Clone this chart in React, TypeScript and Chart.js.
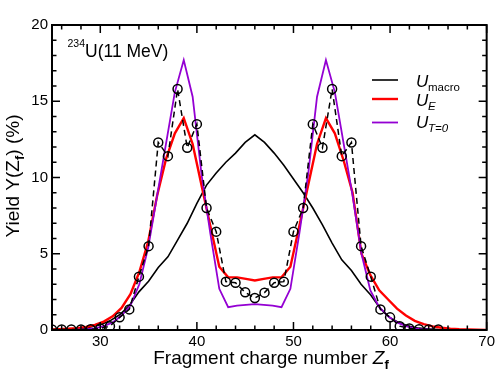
import React, { useEffect, useRef } from "react";
import { Chart, registerables } from "chart.js";

Chart.register(...registerables);

// Experimental yields (open circles, dashed line)
const expZ = [25, 26, 27, 28, 29, 30, 31, 32, 33, 34, 35, 36, 37, 38, 39, 40, 41, 42, 43, 44, 45, 46, 47, 48, 49, 50, 51, 52, 53, 54, 55, 56, 57, 58, 59, 60, 61, 62, 63, 64, 65];
const expYield = [0.03, 0.03, 0.03, 0.03, 0.05, 0.1, 0.25, 0.83, 1.35, 3.5, 5.5, 12.3, 11.4, 15.8, 11.95, 13.5, 8.0, 6.45, 3.17, 3.1, 2.47, 2.1, 2.45, 3.1, 3.17, 6.45, 8.0, 13.5, 11.95, 15.8, 11.4, 12.3, 5.5, 3.5, 1.35, 0.83, 0.25, 0.1, 0.05, 0.03, 0.03];

// U_macro (black)
const macroZ = [25, 26, 27, 28, 29, 30, 31, 32, 33, 34, 35, 36, 37, 38, 39, 40, 41, 42, 43, 44, 45, 46, 47, 48, 49, 50, 51, 52, 53, 54, 55, 56, 57, 58, 59, 60, 61, 62, 63, 64, 65, 66, 67];
const macroYield = [0.02, 0.03, 0.05, 0.1, 0.2, 0.35, 0.6, 1.0, 1.6, 2.5, 3.2, 4.1, 4.8, 5.9, 7.0, 8.3, 9.5, 10.3, 11.0, 11.6, 12.3, 12.8, 12.3, 11.6, 10.8, 9.9, 9.0, 8.0, 6.9, 5.7, 4.6, 3.9, 3.0, 2.3, 1.4, 0.8, 0.45, 0.25, 0.12, 0.06, 0.03, 0.02, 0.01];

// Model grid for U_E and U_T=0
const modelZ = [24.84, 25.76, 26.68, 27.6, 28.52, 29.44, 30.36, 31.28, 32.2, 33.12, 34.04, 34.96, 35.88, 36.8, 37.72, 38.64, 39.56, 40.48, 41.4, 42.32, 43.24, 44.16, 45.08, 46.0, 46.92, 47.84, 48.76, 49.68, 50.6, 51.52, 52.44, 53.36, 54.28, 55.2, 56.12, 57.04, 57.96, 58.88, 59.8, 60.72, 61.64, 62.56, 63.48, 64.4, 65.32, 66.24, 67.16, 68.08, 69.0, 69.92, 70.84];
const yieldE = [0.03, 0.05, 0.08, 0.12, 0.2, 0.33, 0.55, 0.9, 1.45, 2.35, 3.8, 5.8, 8.8, 11.2, 12.9, 13.9, 12.2, 9.5, 6.8, 4.15, 3.45, 3.45, 3.35, 3.25, 3.35, 3.45, 3.45, 4.15, 6.8, 9.5, 12.2, 13.9, 12.9, 11.1, 9.0, 5.0, 3.6, 2.6, 2.0, 1.4, 0.95, 0.6, 0.38, 0.24, 0.15, 0.09, 0.05, 0.03, 0.02, 0.01, 0.01];
const yieldT0 = [0.0, 0.0, 0.01, 0.02, 0.05, 0.1, 0.25, 0.5, 0.95, 1.6, 3.0, 5.4, 8.8, 12.2, 15.6, 17.7, 15.3, 10.2, 6.3, 2.7, 1.5, 1.6, 1.65, 1.7, 1.65, 1.6, 1.5, 2.7, 6.3, 10.2, 15.3, 17.7, 15.6, 12.2, 8.8, 5.0, 2.6, 1.5, 0.9, 0.5, 0.25, 0.1, 0.05, 0.02, 0.01, 0.0, 0.0, 0.0, 0.0, 0.0, 0.0];

// Axis ticks
const xTicks = [30, 40, 50, 60, 70];
const xMinorTicks = [26, 28, 32, 34, 36, 38, 42, 44, 46, 48, 52, 54, 56, 58, 62, 64, 66, 68];
const yTicks = [0, 5, 10, 15, 20];
const yMinorTicks = [1, 2, 3, 4, 6, 7, 8, 9, 11, 12, 13, 14, 16, 17, 18, 19];

const FONT = '"Liberation Sans", Arial, Helvetica, sans-serif';

type Run = { t: string; font: string; dy?: number };

function drawRuns(ctx: CanvasRenderingContext2D, runs: Run[], x: number, y: number, align: "left" | "center") {
  let w = 0;
  for (const r of runs) {
    ctx.font = r.font;
    w += ctx.measureText(r.t).width;
  }
  let cx = align === "center" ? x - w / 2 : x;
  ctx.textAlign = "left";
  ctx.textBaseline = "alphabetic";
  for (const r of runs) {
    ctx.font = r.font;
    ctx.fillText(r.t, cx, y + (r.dy || 0));
    cx += ctx.measureText(r.t).width;
  }
}

const decorPlugin = {
  id: "decor",
  afterDraw(chart: any) {
    const ctx: CanvasRenderingContext2D = chart.ctx;
    const { left, right, top, bottom } = chart.chartArea;
    const xs = chart.scales.x;
    const ys = chart.scales.y;
    ctx.save();
    ctx.strokeStyle = "#000";
    ctx.fillStyle = "#000";

    // ticks (inward, all sides)
    ctx.lineWidth = 1.5;
    const major = 8;
    const minor = 4.5;
    ctx.beginPath();
    const xt = (v: number, len: number) => {
      const px = xs.getPixelForValue(v);
      ctx.moveTo(px, bottom);
      ctx.lineTo(px, bottom - len);
      ctx.moveTo(px, top);
      ctx.lineTo(px, top + len);
    };
    const yt = (v: number, len: number) => {
      const py = ys.getPixelForValue(v);
      ctx.moveTo(left, py);
      ctx.lineTo(left + len, py);
      ctx.moveTo(right, py);
      ctx.lineTo(right - len, py);
    };
    xTicks.forEach((v) => xt(v, major));
    xMinorTicks.forEach((v) => xt(v, minor));
    yTicks.forEach((v) => yt(v, major));
    yMinorTicks.forEach((v) => yt(v, minor));
    ctx.stroke();

    // frame
    ctx.lineWidth = 2;
    ctx.strokeRect(left, top, right - left, bottom - top);

    // annotation
    drawRuns(ctx, [{ t: "234", font: `10.5px ${FONT}`, dy: -10 }, { t: "U(11 MeV)", font: `17.5px ${FONT}` }], 67.5, 57, "left");

    // legend
    const legend = [
      { color: "#000000", y: 80, w: 1.6, sub: "macro", subItalic: false },
      { color: "#ff0000", y: 99, w: 2.4, sub: "E", subItalic: true },
      { color: "#9400d3", y: 122.5, w: 1.8, sub: "T=0", subItalic: true },
    ];
    legend.forEach((l, i) => {
      ctx.strokeStyle = l.color;
      ctx.lineWidth = l.w;
      ctx.beginPath();
      ctx.moveTo(372, l.y);
      ctx.lineTo(398, l.y);
      ctx.stroke();
      const base = l.y + (i === 2 ? 5.5 : 7);
      ctx.fillStyle = "#000";
      ctx.font = `italic 17px ${FONT}`;
      ctx.textAlign = "left";
      ctx.textBaseline = "alphabetic";
      ctx.fillText("U", 416, base);
      ctx.font = `${l.subItalic ? "italic " : ""}11.5px ${FONT}`;
      ctx.fillText(l.sub, 428, base + 3.5);
    });

    // x-axis title
    ctx.fillStyle = "#000";
    drawRuns(
      ctx,
      [
        { t: "Fragment charge number ", font: `19px ${FONT}` },
        { t: "Z", font: `italic 19px ${FONT}` },
        { t: "f", font: `bold 13px ${FONT}`, dy: 5 },
      ],
      271,
      364,
      "center"
    );

    // y-axis title
    ctx.save();
    ctx.translate(19, 176);
    ctx.rotate(-Math.PI / 2);
    drawRuns(
      ctx,
      [
        { t: "Yield Y(Z", font: `19px ${FONT}` },
        { t: "f", font: `bold 13px ${FONT}`, dy: 5 },
        { t: ") (%)", font: `19px ${FONT}` },
      ],
      0,
      0,
      "center"
    );
    ctx.restore();

    ctx.restore();
  },
};

const pts = (xs: number[], ys: number[]) => xs.map((x, i) => ({ x, y: ys[i] }));

export default function App() {
  const ref = useRef<HTMLCanvasElement>(null);
  useEffect(() => {
    document.body.style.margin = "0";
    const canvas = ref.current!;
    const chart = new Chart(canvas, {
      type: "line",
      data: {
        datasets: [
          {
            label: "exp",
            data: pts(expZ, expYield),
            borderColor: "#000",
            borderWidth: 1.5,
            borderDash: [6, 4],
            pointRadius: 4.5,
            pointBorderWidth: 1.5,
            pointBorderColor: "#000",
            pointBackgroundColor: "rgba(0,0,0,0)",
            pointStyle: "circle",
            order: 0,
          },
          {
            label: "U_T=0",
            data: pts(modelZ, yieldT0),
            borderColor: "#9400d3",
            borderWidth: 1.8,
            pointRadius: 0,
            order: 1,
          },
          {
            label: "U_E",
            data: pts(modelZ, yieldE),
            borderColor: "#ff0000",
            borderWidth: 2.4,
            pointRadius: 0,
            order: 2,
          },
          {
            label: "U_macro",
            data: pts(macroZ, macroYield),
            borderColor: "#000",
            borderWidth: 1.6,
            pointRadius: 0,
            order: 3,
          },
        ],
      },
      options: {
        responsive: false,
        animation: false,
        devicePixelRatio: 1,
        layout: { padding: { top: 25, right: 10, left: 0, bottom: 0 } },
        plugins: { legend: { display: false }, tooltip: { enabled: false } },
        elements: { line: { tension: 0 } },
        scales: {
          x: {
            type: "linear",
            min: 25,
            max: 70,
            grid: { display: false, drawTicks: false },
            border: { display: false },
            ticks: { font: { family: FONT, size: 15 }, color: "#000", padding: 3 },
            afterBuildTicks: (s: any) => {
              s.ticks = xTicks.map((v) => ({ value: v }));
            },
            afterFit: (s: any) => {
              s.height = 55;
            },
          },
          y: {
            type: "linear",
            min: 0,
            max: 20,
            grid: { display: false, drawTicks: false },
            border: { display: false },
            ticks: { font: { family: FONT, size: 15 }, color: "#000", padding: 4 },
            afterBuildTicks: (s: any) => {
              s.ticks = yTicks.map((v) => ({ value: v }));
            },
            afterFit: (s: any) => {
              s.width = 52;
            },
          },
        },
      },
      plugins: [decorPlugin],
    } as any);
    return () => chart.destroy();
  }, []);
  return (
    <div style={{ width: 498, height: 385 }}>
      <canvas ref={ref} width={498} height={385} style={{ display: "block", width: 498, height: 385 }} />
    </div>
  );
}
